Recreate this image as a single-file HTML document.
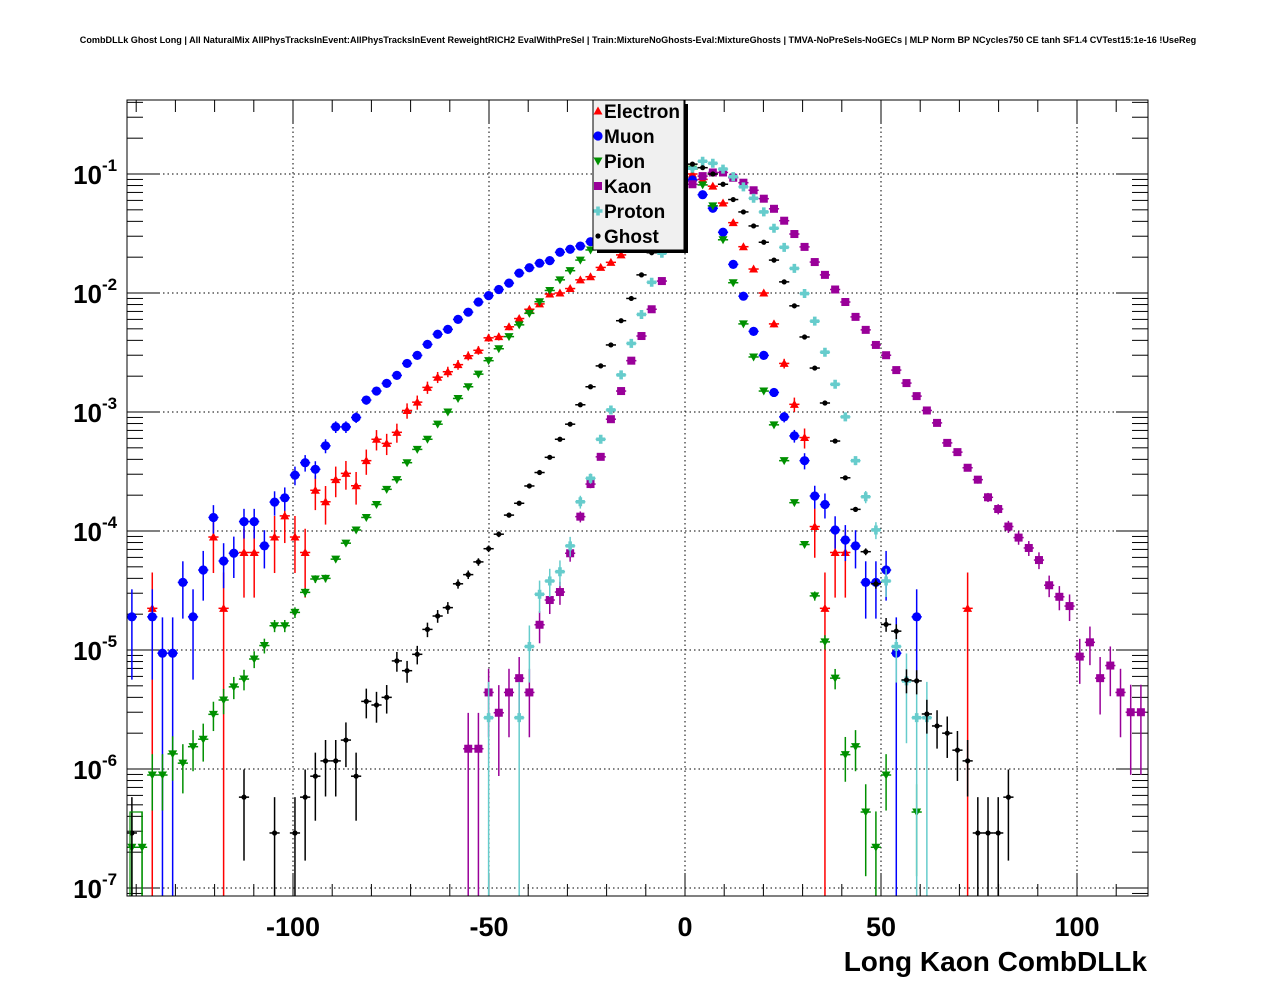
<!DOCTYPE html>
<html><head><meta charset="utf-8"><title>Long Kaon CombDLLk</title>
<style>
html,body{margin:0;padding:0;background:#fff;}
svg{display:block;font-family:"Liberation Sans",Arial,sans-serif;}
</style></head>
<body>
<svg id="chart" width="1276" height="996" viewBox="0 0 1276 996" xmlns="http://www.w3.org/2000/svg">
<rect width="1276" height="996" fill="#fff"/>
<text x="638" y="43" font-size="9.1" font-weight="bold" text-anchor="middle">CombDLLk Ghost Long | All NaturalMix AllPhysTracksInEvent:AllPhysTracksInEvent ReweightRICH2 EvalWithPreSel | Train:MixtureNoGhosts-Eval:MixtureGhosts | TMVA-NoPreSels-NoGECs | MLP Norm BP NCycles750 CE tanh SF1.4 CVTest15:1e-16 !UseReg</text>
<defs><clipPath id="plotclip"><rect x="127" y="100" width="1021" height="796"/></clipPath></defs>
<g id="grid"></g>
<g id="axes"></g>
<g id="series" clip-path="url(#plotclip)"></g>
<rect x="127" y="100" width="1021" height="796" fill="none" stroke="#000" stroke-width="1"/>
<g id="legend"></g>
<text x="1147" y="971" font-size="28" font-weight="bold" text-anchor="end">Long Kaon CombDLLk</text>
</svg>
<script>
// ---- data ----
const binWidth = 2.6;
const firstBinCenter = -141.1;
const xTicks = [-100, -50, 0, 50, 100];
const xTickLabels = ["-100", "-50", "0", "50", "100"];
const yDecades = [-1, -2, -3, -4, -5, -6, -7];
const yTickLabels = ["-1", "-2", "-3", "-4", "-5", "-6", "-7"];
const seriesNames = ["Electron", "Muon", "Pion", "Kaon", "Proton", "Ghost"];

const electronStart = 2;
const electronVals = [2.24e-5,null,null,null,null,null,8.9e-5,2.24e-5,null,6.6e-5,6.6e-5,null,8.9e-5,1.34e-4,8.9e-5,6.6e-5,
2.2e-4,1.76e-4,2.7e-4,3.05e-4,2.4e-4,3.9e-4,5.9e-4,5.45e-4,6.75e-4,1.03e-3,1.21e-3,1.61e-3,1.96e-3,2.18e-3,2.5e-3,2.97e-3,3.3e-3,4.2e-3,4.3e-3,5.2e-3,6.1e-3,7.3e-3,8.1e-3,9.8e-3,1.0e-2,1.09e-2,1.29e-2,1.37e-2,
1.64e-2,1.81e-2,2.09e-2,2.4e-2,2.9e-2,3.6e-2,4.5e-2,6.0e-2,8.0e-2,1.0e-1,9.0e-2,7.9e-2,5.7e-2,3.9e-2,2.45e-2,1.59e-2,1.0e-2,5.5e-3,2.56e-3,1.16e-3,6.1e-4,1.09e-4,2.24e-5,6.6e-5,6.6e-5,
null,null,null,null,null,null,null,null,null,null,null,2.24e-5];

const muonStart = 0;
const muonVals = [1.9e-5,null,1.9e-5,9.4e-6,9.4e-6,3.7e-5,1.9e-5,4.7e-5,1.3e-4,5.6e-5,6.5e-5,1.2e-4,1.2e-4,7.5e-5,1.75e-4,1.9e-4,2.95e-4,3.75e-4,3.3e-4,5.2e-4,
7.5e-4,7.5e-4,9.0e-4,1.26e-3,1.5e-3,1.74e-3,2.03e-3,2.56e-3,2.99e-3,3.7e-3,4.5e-3,4.95e-3,6.0e-3,6.9e-3,8.4e-3,9.5e-3,1.07e-2,1.21e-2,1.47e-2,1.63e-2,
1.78e-2,1.87e-2,2.2e-2,2.33e-2,2.48e-2,2.7e-2,3.0e-2,3.4e-2,3.9e-2,4.5e-2,5.2e-2,6.0e-2,7.0e-2,8.0e-2,9.0e-2,8.9e-2,6.7e-2,5.15e-2,3.24e-2,1.74e-2,
9.4e-3,4.76e-3,2.99e-3,1.46e-3,9.1e-4,6.3e-4,3.9e-4,1.97e-4,1.67e-4,1.02e-4,8.4e-5,7.5e-5,3.7e-5,3.7e-5,4.7e-5,9.4e-6,null,1.9e-5];

const pionStart = 0;
const pionVals = [2.2e-7,2.2e-7,8.9e-7,8.9e-7,1.34e-6,1.12e-6,1.54e-6,1.78e-6,2.88e-6,3.8e-6,4.9e-6,5.7e-6,8.4e-6,1.09e-5,1.6e-5,1.6e-5,2.07e-5,3.05e-5,3.95e-5,4.0e-5,
5.8e-5,7.9e-5,1.02e-4,1.3e-4,1.67e-4,2.24e-4,2.7e-4,3.75e-4,4.85e-4,5.9e-4,7.9e-4,1.0e-3,1.3e-3,1.63e-3,2.08e-3,2.7e-3,3.4e-3,4.3e-3,5.4e-3,6.75e-3,
8.45e-3,1.05e-2,1.29e-2,1.54e-2,1.89e-2,2.3e-2,2.8e-2,3.4e-2,4.2e-2,5.2e-2,6.4e-2,8.0e-2,1.0e-1,1.25e-1,1.5e-1,1.1e-1,8.1e-2,5.4e-2,2.8e-2,1.22e-2,
5.5e-3,2.9e-3,1.5e-3,7.8e-4,3.9e-4,1.73e-4,7.7e-5,2.85e-5,1.17e-5,5.8e-6,1.32e-6,1.54e-6,4.35e-7,2.2e-7,8.9e-7,null,null,4.35e-7];

const kaonStart = 33;
const kaonVals = [1.48e-6,1.48e-6,4.4e-6,2.97e-6,4.4e-6,5.8e-6,4.4e-6,1.63e-5,2.63e-5,3.07e-5,6.5e-5,1.32e-4,2.48e-4,4.2e-4,8.7e-4,1.5e-3,2.7e-3,
4.35e-3,7.3e-3,1.26e-2,3.0e-2,6.2e-2,8.2e-2,9.6e-2,1.03e-1,1.03e-1,9.3e-2,8.45e-2,7.3e-2,6.2e-2,5.1e-2,4.05e-2,3.13e-2,2.44e-2,1.82e-2,1.42e-2,1.07e-2,
8.4e-3,6.3e-3,4.9e-3,3.66e-3,3.0e-3,2.25e-3,1.75e-3,1.36e-3,1.03e-3,8.1e-4,5.5e-4,4.6e-4,3.4e-4,2.7e-4,1.92e-4,1.53e-4,1.09e-4,8.8e-5,7.2e-5,5.7e-5,
3.5e-5,2.8e-5,2.34e-5,8.8e-6,1.16e-5,5.8e-6,7.4e-6,4.4e-6,3.0e-6,3.0e-6];

const protonStart = 35;
const protonVals = [2.7e-6,null,null,2.7e-6,1.07e-5,2.94e-5,3.8e-5,4.55e-5,7.5e-5,1.76e-4,2.77e-4,5.9e-4,1.04e-3,2.05e-3,3.77e-3,6.6e-3,1.23e-2,2.16e-2,3.6e-2,6.5e-2,
1.12e-1,1.28e-1,1.23e-1,1.1e-1,9.5e-2,7.8e-2,6.25e-2,4.8e-2,3.5e-2,2.42e-2,1.61e-2,9.9e-3,5.8e-3,3.18e-3,1.71e-3,9.1e-4,3.9e-4,1.94e-4,1.02e-4,3.8e-5,
1.07e-5,5.5e-6,2.7e-6,2.7e-6];

const ghostStart = 0;
const ghostVals = [2.9e-7,null,null,null,null,null,null,null,null,null,null,5.8e-7,null,null,2.9e-7,null,2.9e-7,5.8e-7,8.7e-7,1.17e-6,
1.17e-6,1.75e-6,8.7e-7,3.7e-6,3.45e-6,4.0e-6,8.1e-6,6.7e-6,9.2e-6,1.49e-5,1.93e-5,2.27e-5,3.6e-5,4.3e-5,5.5e-5,7.1e-5,9.4e-5,1.36e-4,1.71e-4,2.39e-4,
3.1e-4,4.16e-4,5.9e-4,7.9e-4,1.15e-3,1.63e-3,2.44e-3,3.66e-3,5.85e-3,9.0e-3,1.42e-2,2.18e-2,3.3e-2,5.0e-2,8.0e-2,1.21e-1,1.13e-1,1.0e-1,8.2e-2,6.1e-2,
4.8e-2,3.66e-2,2.67e-2,1.89e-2,1.24e-2,7.8e-3,4.27e-3,2.34e-3,1.19e-3,5.7e-4,2.8e-4,1.52e-4,6.7e-5,3.6e-5,1.64e-5,1.44e-5,5.6e-6,5.5e-6,2.9e-6,2.3e-6,
2.0e-6,1.44e-6,1.17e-6,2.9e-7,2.9e-7,2.9e-7,5.8e-7];

// weight of one entry per series (for statistical error bars)
const unitWeights = [2.24e-5, 9.4e-6, 2.2e-7, 1.48e-6, 2.7e-6, 2.9e-7];

// ---- axes ----
const NS = "http://www.w3.org/2000/svg";
const X0 = 685, XS = 3.92;
const YD = 174, YPD = 119;
const PL = 127, PR = 1148, PT = 100, PB = 896;
function xPx(v){ return X0 + XS*v; }
function yPx(v){ return YD + (-1 - Math.log10(v))*YPD; }
function yPxLog(l){ return YD + (-1 - l)*YPD; }
function binX(i){ return firstBinCenter + binWidth*i; }
function mk(tag, attrs, parent){
  const e = document.createElementNS(NS, tag);
  for (const k in attrs) e.setAttribute(k, attrs[k]);
  parent.appendChild(e); return e;
}
const gGrid = document.getElementById('grid');
const gAxes = document.getElementById('axes');
const gSer = document.getElementById('series');
const gLeg = document.getElementById('legend');

for (let v = -140; v <= 110; v += 10) {
  const px = xPx(v);
  const major = (v % 50 === 0);
  const len = major ? 23 : 12;
  const t1 = mk('line', {x1:px, y1:PB, x2:px, y2:PB-len, stroke:'#000', 'stroke-width':1}, gAxes);
  
  
  const t2 = mk('line', {x1:px, y1:PT, x2:px, y2:PT+len, stroke:'#000', 'stroke-width':1}, gAxes);
  
  
}
xTicks.forEach((v, k) => {
  const px = xPx(v);
  const g = mk('line', {x1:px, y1:PT, x2:px, y2:PB, stroke:'#000', 'stroke-width':1, 'stroke-dasharray':'1.5,3'}, gGrid);
  
  
  const t = mk('text', {x:px, y:936, 'font-size':27, 'font-weight':'bold', 'text-anchor':'middle'}, gAxes);
  t.textContent = xTickLabels[k];
  
  
});
yDecades.forEach((d, k) => {
  const py = yPxLog(d);
  const g = mk('line', {x1:PL, y1:py, x2:PR, y2:py, stroke:'#000', 'stroke-width':1, 'stroke-dasharray':'1.5,3'}, gGrid);
  
  
  const t = mk('text', {x:102, y:py+10, 'font-size':26, 'font-weight':'bold', 'text-anchor':'end'}, gAxes);
  t.textContent = '10';
  
  
  const s = mk('text', {x:102, y:py-3, 'font-size':17, 'font-weight':'bold', 'text-anchor':'start'}, gAxes);
  s.textContent = yTickLabels[k];
  
  
});
for (let d = -8; d <= 0; d++) {
  for (let m = 1; m <= 9; m++) {
    const py = yPxLog(d + Math.log10(m));
    if (py < PT || py > PB) continue;
    const len = m === 1 ? 32 : 16;
    const a = mk('line', {x1:PL, y1:py, x2:PL+len, y2:py, stroke:'#000', 'stroke-width':1}, gAxes);
    
    
    const b = mk('line', {x1:PR, y1:py, x2:PR-len, y2:py, stroke:'#000', 'stroke-width':1}, gAxes);
    
    
  }
}

// ---- series ----
const colors = ['#ff0000', '#0000ff', '#009000', '#990099', '#66cccc', '#000000'];
const starts = [electronStart, muonStart, pionStart, kaonStart, protonStart, ghostStart];
const valsList = [electronVals, muonVals, pionVals, kaonVals, protonVals, ghostVals];

function drawMarker(kind, cx, cy, color, parent){
  let m;
  if (kind === 0) m = mk('polygon', {points:`${cx},${cy-4.5} ${cx-4.5},${cy+3.5} ${cx+4.5},${cy+3.5}`, fill:color}, parent);
  else if (kind === 1) m = mk('circle', {cx:cx, cy:cy, r:4.6, fill:color}, parent);
  else if (kind === 2) m = mk('polygon', {points:`${cx},${cy+4.5} ${cx-4.5},${cy-3.5} ${cx+4.5},${cy-3.5}`, fill:color}, parent);
  else if (kind === 3) m = mk('rect', {x:cx-4, y:cy-4, width:8, height:8, fill:color}, parent);
  else if (kind === 4) m = mk('path', {d:`M${cx-4.5},${cy-1.8}h9v3.6h-9zM${cx-1.8},${cy-4.5}h3.6v9h-3.6z`, fill:color}, parent);
  else m = mk('circle', {cx:cx, cy:cy, r:2.6, fill:color}, parent);
  return m;
}

valsList.forEach((vals, s) => {
  const g = mk('g', {}, gSer);
  
  
  vals.forEach((v, j) => {
    if (v === null || v === undefined || v <= 0) return;
    const i = starts[s] + j;
    const cx = xPx(binX(i));
    const cy = yPx(v);
    const err = Math.sqrt(v * unitWeights[s]);
    const yTop = yPx(v + err);
    const yBot = (v - err) > 1e-9 ? yPx(v - err) : PB + 10;
    const ev = mk('line', {x1:cx, y1:yTop, x2:cx, y2:yBot, stroke:colors[s], 'stroke-width':1.5}, g);
    
    
    const eh = mk('line', {x1:xPx(binX(i) - binWidth/2), y1:cy, x2:xPx(binX(i) + binWidth/2), y2:cy, stroke:colors[s], 'stroke-width':1.5}, g);
    
    
    const mkr = drawMarker(s, cx, cy, colors[s], g);
    
    
  });
});
const gb = mk('rect', {x:130, y:812, width:12, height:90, fill:'none', stroke:'#009000', 'stroke-width':1.2}, gSer);



// ---- legend ----
const sh = mk('rect', {x:597, y:104, width:91, height:149, fill:'#000'}, gLeg);


const lb = mk('rect', {x:593, y:100, width:91, height:150, fill:'#f0f0f0', stroke:'#000', 'stroke-width':1}, gLeg);


seriesNames.forEach((nm, s) => {
  const cy = 111 + 25*s;
  const m = drawMarker(s, 598, cy, colors[s], gLeg);
  
  
  const t = mk('text', {x:604, y:cy+7, 'font-size':19, 'font-weight':'bold'}, gLeg);
  t.textContent = nm;
  
  
});
</script>
</body></html>
